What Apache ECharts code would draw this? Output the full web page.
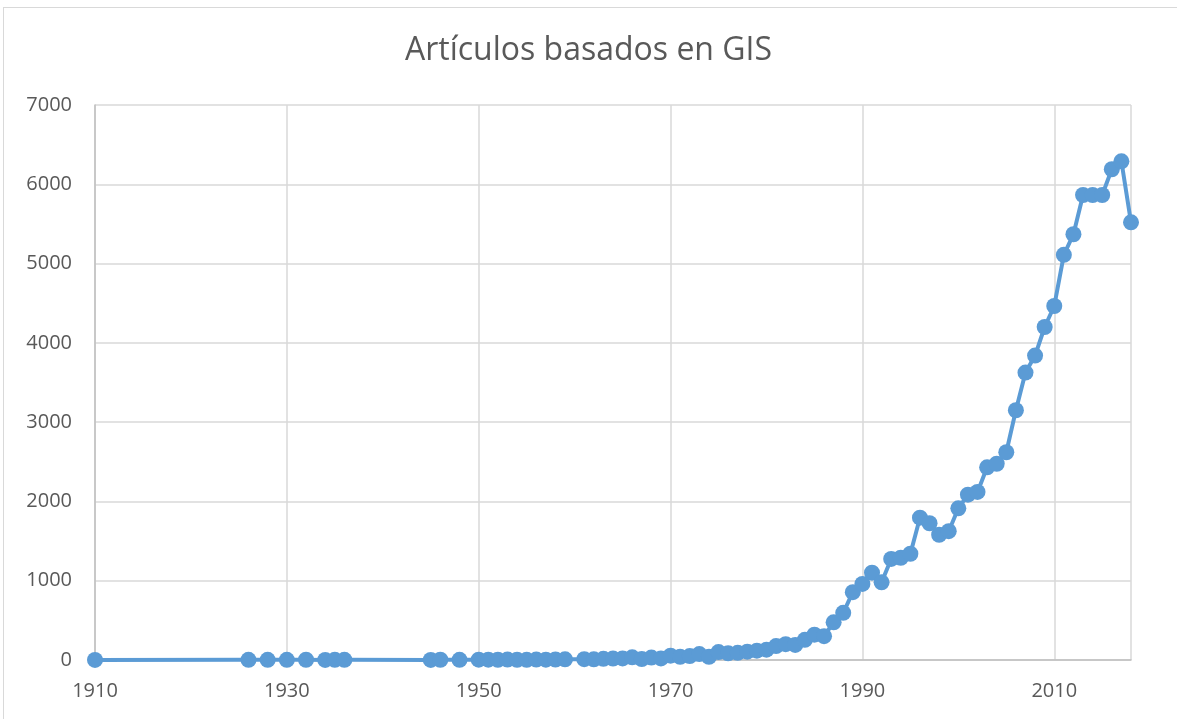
<!DOCTYPE html>
<html>
<head>
<meta charset="utf-8">
<script src="https://cdn.jsdelivr.net/npm/echarts@6/dist/echarts.min.js"></script>
<style>
  html, body { margin: 0; padding: 0; background: #fff; }
  #frame { position: absolute; left: 3px; top: 7px; width: 1180px; height: 720px; border: 1px solid #d9d9d9; }
  #chart { position: absolute; left: 0; top: 0; width: 1177px; height: 719px; }
</style>
</head>
<body>
<div id="frame"></div>
<div id="chart"></div>
<script>
var years = [1910, 1926, 1928, 1930, 1932, 1934, 1935, 1936, 1945, 1946, 1948,
  1950, 1951, 1952, 1953, 1954, 1955, 1956, 1957, 1958, 1959,
  1961, 1962, 1963, 1964, 1965, 1966, 1967, 1968, 1969, 1970,
  1971, 1972, 1973, 1974, 1975, 1976, 1977, 1978, 1979, 1980,
  1981, 1982, 1983, 1984, 1985, 1986, 1987, 1988, 1989, 1990,
  1991, 1992, 1993, 1994, 1995, 1996, 1997, 1998, 1999, 2000,
  2001, 2002, 2003, 2004, 2005, 2006, 2007, 2008, 2009, 2010,
  2011, 2012, 2013, 2014, 2015, 2016, 2017, 2018];
var articles = [1, 2, 2, 2, 3, 1, 2, 2, 1, 3, 2,
  4, 4, 3, 5, 3, 2, 5, 4, 6, 8,
  10, 8, 15, 18, 20, 34, 12, 30, 20, 55,
  40, 50, 75, 40, 100, 85, 90, 105, 118, 130,
  176, 200, 190, 255, 320, 300, 475, 595, 855, 960,
  1101, 980, 1275, 1290, 1340, 1795, 1725, 1580, 1625, 1913,
  2085, 2120, 2430, 2475, 2620, 3150, 3625, 3840, 4200, 4465,
  5110, 5370, 5865, 5865, 5865, 6190, 6290, 5520];
var yTicks = [0, 1000, 2000, 3000, 4000, 5000, 6000, 7000];
var xTicks = [1910, 1930, 1950, 1970, 1990, 2010];

var points = years.map(function (y, i) { return [y, articles[i]]; });

var myChart = echarts.init(document.getElementById('chart'));
var option = {
  animation: false,
  title: {
    text: 'Artículos basados en GIS',
    left: 'center',
    top: 30,
    textStyle: {
      fontFamily: 'Open Sans',
      fontSize: 32,
      fontWeight: 'normal',
      color: '#595959'
    }
  },
  grid: {
    left: 95,
    right: 46,
    top: 105,
    bottom: 59
  },
  xAxis: {
    type: 'value',
    min: xTicks[0],
    max: 2018,
    interval: 20,
    axisLine: { show: true, lineStyle: { color: '#bfbfbf', width: 1.5 } },
    axisTick: { show: false },
    axisLabel: {
      showMaxLabel: false,
      margin: 21,
      fontFamily: 'Open Sans',
      fontSize: 20,
      color: '#595959',
      formatter: function (v) { return String(v); }
    },
    splitLine: { show: true, lineStyle: { color: '#d9d9d9', width: 1.5 } }
  },
  yAxis: {
    type: 'value',
    min: yTicks[0],
    max: yTicks[yTicks.length - 1],
    interval: 1000,
    axisLine: { show: true, lineStyle: { color: '#bfbfbf', width: 1.5 } },
    axisTick: { show: false },
    axisLabel: {
      margin: 23,
      fontFamily: 'Open Sans',
      fontSize: 20,
      color: '#595959',
      formatter: function (v) { return String(v); }
    },
    splitLine: { show: true, lineStyle: { color: '#d9d9d9', width: 1.5 } }
  },
  series: [{
    type: 'line',
    data: points,
    symbol: 'circle',
    symbolSize: 16,
    color: '#5b9bd5',
    lineStyle: { width: 4, color: '#5b9bd5' },
    itemStyle: { color: '#5b9bd5' }
  }]
};
myChart.setOption(option);
</script>
</body>
</html>
